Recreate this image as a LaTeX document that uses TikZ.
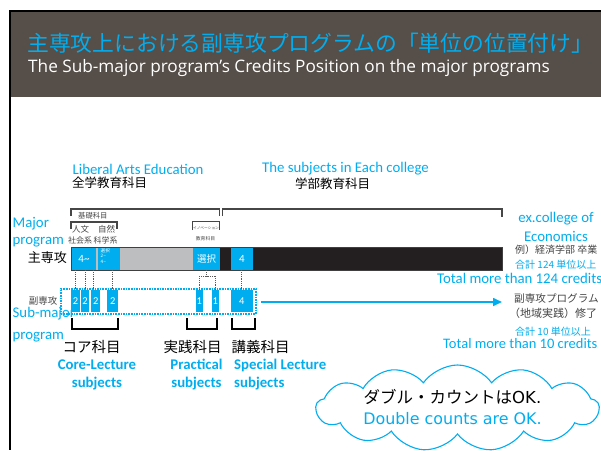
\documentclass[tikz,border=0pt]{standalone}
\usepackage{fontspec}
\setmainfont{Carlito}
\newfontfamily\jp{Noto Sans CJK JP}
\newfontfamily\osans{Open Sans}
\newfontfamily\dvs{DejaVu Sans}
\usetikzlibrary{arrows.meta,shapes.symbols}
\definecolor{cyanc}{RGB}{0,174,239}
\definecolor{hdr}{RGB}{86,78,72}
\definecolor{barblack}{RGB}{35,31,32}
\definecolor{bargray}{RGB}{188,190,192}
\definecolor{brk}{RGB}{70,70,70}
\newcommand\fsz[2]{\fontsize{#1}{#2}\selectfont}
\tikzset{
  seg/.style={anchor=north west, inner sep=0, minimum height=23pt, text=white},
  subbox/.style={anchor=north west, inner sep=0, minimum height=22pt, fill=cyanc, text=white, font=\fsz{10.5}{11}},
  conn/.style={draw=black!65, densely dotted, line width=0.8pt},
  topbrk/.style={draw=brk, line width=1.1pt},
  botbrk/.style={draw=black, line width=1.8pt},
  lbl/.style={inner sep=0, text=cyanc, font=\fsz{14.8}{18}},
  jplbl/.style={inner sep=0, font=\jp\fsz{14.5}{16}},
}
\begin{document}
\begin{tikzpicture}[x=1pt,y=-1pt]
\useasboundingbox (0,0) rectangle (601,450);
\clip (0,0) rectangle (601,450);
\fill[white] (0,0) rectangle (601,450);
% header
\fill[hdr] (10,11) rectangle (601,97);
\fill[black] (8.5,10.3) rectangle (601,12.3);
\fill[black] (8.5,10.3) rectangle (11.3,450);
\node[anchor=west, inner sep=0, text=cyanc, font=\jp\fsz{21.8}{24}] (title) at (27,43) {主専攻上における副専攻プログラムの「単位の位置付け」};
\node[anchor=west, inner sep=0, text=white, font=\osans\fsz{17.2}{19}] (subtitle) at (28,68) {The Sub-major program’s Credits Position on the major programs};

% top labels
\node[lbl, anchor=west] (lae) at (72.5,169) {Liberal Arts Education};
\node[inner sep=0, anchor=west, font=\jp\fsz{12.5}{14}] (lae-jp) at (72,183) {全学教育科目};
\node[lbl, anchor=west] (sec) at (262,169) {The subjects in Each college};
\node[inner sep=0, anchor=west, font=\jp\fsz{12.5}{14}] (sec-jp) at (295,184) {学部教育科目};

% top brackets
\draw[topbrk] (71,216) -- (71,209) -- (219.5,209) -- (219.5,216);
\draw[topbrk] (222.5,216) -- (222.5,209) -- (502,209) -- (502,217);
\draw[topbrk] (71,229) -- (71,222) -- (117,222) -- (117,229);
\draw[topbrk, line width=0.9pt] (192.5,230) -- (192.5,221) -- (219,221) -- (219,230);
\node[inner sep=0, anchor=west, font=\jp\fsz{7.3}{8}, text=brk] (kiso) at (78,215.5) {基礎科目};
\node[inner sep=0, font=\jp\fsz{8.5}{9}, text=brk] (jinbun) at (80.5,229) {人文};
\node[inner sep=0, font=\jp\fsz{8.5}{9}, text=brk] (shizen) at (106.5,229) {自然};
\node[inner sep=0, font=\jp\fsz{8}{9}, text=brk] (shakai) at (80,240) {社会系};
\node[inner sep=0, font=\jp\fsz{8}{9}, text=brk] (kagaku) at (105.5,240) {科学系};
\node[inner sep=0, font=\jp\fsz{3.7}{4}, text=brk] (innov) at (206,228.5) {イノベーション};
\node[inner sep=0, font=\jp\fsz{4.8}{5}, text=brk] (innov2) at (205.5,239) {教育科目};

% side labels
\node[lbl, anchor=west, align=left, font=\fsz{14.8}{16.5}] (major) at (12.5,232) {Major\\program};
\node[inner sep=0, anchor=east, font=\jp\fsz{13}{14}] (shusenko) at (67,258) {主専攻};
\node[inner sep=0, anchor=east, font=\jp\fsz{9.5}{10}, text=brk] (fukusenko) at (57.5,301) {副専攻};
\node[lbl, anchor=west, align=left, font=\fsz{14.8}{22}] (submajor) at (12.5,325) {Sub-major\\program};

% main bar
\node[seg, fill=cyanc, minimum width=24.5pt, font=\fsz{11}{12}] (seg1) at (71.5,247) {4\textasciitilde};
\fill[bargray] (96,247) rectangle (97.5,270);
\node[seg, fill=cyanc, minimum width=22.5pt] (seg2) at (97.5,247) {};
\node[seg, fill=bargray, minimum width=73pt] (seg3) at (120,247) {};
\node[seg, fill=cyanc, minimum width=27pt, font=\jp\fsz{9.5}{10}] (seg4) at (193,247) {選択};
\node[seg, fill=barblack, minimum width=11pt] (seg5) at (220,247) {};
\node[seg, fill=cyanc, minimum width=21.3pt, font=\fsz{11}{12}] (seg6) at (231,247) {4};
\node[seg, fill=barblack, minimum width=249.7pt] (seg7) at (252.3,247) {};
\draw[draw=black!75, line width=0.7pt] (71.5,247) rectangle (502,270);
\node[anchor=north west, inner sep=0, align=left, text=white, font=\jp\fsz{4.6}{5.4}] (seg2txt) at (100.5,248.5) {選択\\2\textasciitilde\\4\textasciitilde};

% sub-major boxes
\node[draw=cyanc, densely dotted, line width=1.6pt, anchor=north west, inner sep=0, minimum width=195pt, minimum height=25pt] (subrect) at (60,288) {};
\node[subbox, minimum width=8.5pt] (s1) at (71,290) {2};
\node[subbox, minimum width=8.5pt] (s2) at (80.5,290) {2};
\node[subbox, minimum width=9pt] (s3) at (91,290) {2};
\node[subbox, minimum width=11pt] (s4) at (107,290) {2};
\node[subbox, minimum width=6.3pt] (s5) at (196,290) {1};
\node[subbox, minimum width=6.3pt] (s6) at (212,290) {1};
\node[subbox, minimum width=21.3pt] (s7) at (231,290) {4};

% dotted connectors
\draw[conn] (seg1.south -| s1.north) -- (s1.north);
\draw[conn] (seg1.south -| s2.north) -- (s2.north);
\draw[conn] ([xshift=-2.5pt]seg1.south -| s3.north) -- ([xshift=-2.5pt]s3.north);
\draw[conn] (seg2.south -| s4.north) -- (s4.north);
\draw[conn] (seg4.south) -- ++(0,6) coordinate (j);
\draw[conn] (j -| s5.north) -- (j -| s6.north);
\draw[conn] (j -| s5.north) -- (s5.north);
\draw[conn] (j -| s6.north) -- (s6.north);
\draw[conn] (seg6.south) -- (s7.north);

% arrow
\coordinate (arrs) at (261,302);
\coordinate (arre) at (502,302);
\draw[cyanc, line width=1.6pt, -{Triangle[length=9pt,width=8pt]}] (arrs) -- (arre);

% bottom brackets
\draw[botbrk] (72,318) -- (72,329) -- (118,329) -- (118,318);
\draw[botbrk] (187,318) -- (187,329) -- (217,329) -- (217,318);
\draw[botbrk] (232,318) -- (232,329) -- (255,329) -- (255,318);

\node[jplbl] (core-jp) at (91.5,347) {コア科目};
\node[jplbl] (prac-jp) at (192.5,347) {実践科目};
\node[jplbl] (spec-jp) at (260.5,347) {講義科目};
\node[lbl, font=\bfseries\fsz{14.8}{18}, align=center] (core) at (97,375) {Core-Lecture\\subjects};
\node[lbl, font=\bfseries\fsz{14.8}{18}, align=center] (prac) at (196.5,375) {Practical\\subjects};
\node[lbl, font=\bfseries\fsz{14.8}{18}, align=left, anchor=west] (spec) at (234,375) {Special Lecture\\subjects};

% right side
\node[lbl, align=center, font=\fsz{14.8}{19}] (econ) at (556,226.5) {ex.college of\\Economics};
\node[inner sep=0, anchor=west, font=\jp\fsz{10}{11}, text=brk] (rei) at (515,250) {例）経済学部 卒業};
\node[inner sep=0, anchor=west, font=\jp\fsz{10}{11}, text=cyanc] (g124) at (515,265) {合計 124 単位以上};
\node[lbl, anchor=west] (t124) at (437,278) {Total more than 124 credits};
\node[inner sep=0, anchor=west, font=\jp\fsz{10.6}{12}, text=brk] (subprog) at (514,298) {副専攻プログラム};
\node[inner sep=0, anchor=west, font=\jp\fsz{11}{12}, text=brk] (chiiki) at (509,313) {（地域実践）修了};
\node[inner sep=0, anchor=west, font=\jp\fsz{10}{11}, text=cyanc] (g10) at (515,332) {合計 10 単位以上};
\node[lbl, anchor=west, font=\fsz{14.5}{18}] (t10) at (443,344) {Total more than 10 credits};

% cloud
\node[cloud, cloud puffs=13, cloud puff arc=110, aspect=3.2, draw=cyanc, line width=1.1pt, fill=white, minimum width=283pt, minimum height=86pt, inner sep=0] (cloudn) at (457.5,408) {};
\node[inner sep=0, font=\fsz{16.5}{18}] (dc-jp) at (452.5,397) {{\jp ダブル・カウントは}{\dvs OK.}};
\node[inner sep=0, text=cyanc, font=\dvs\fsz{15.9}{18}] (dc-en) at (452.5,419) {Double counts are OK.};
\end{tikzpicture}
\end{document}
